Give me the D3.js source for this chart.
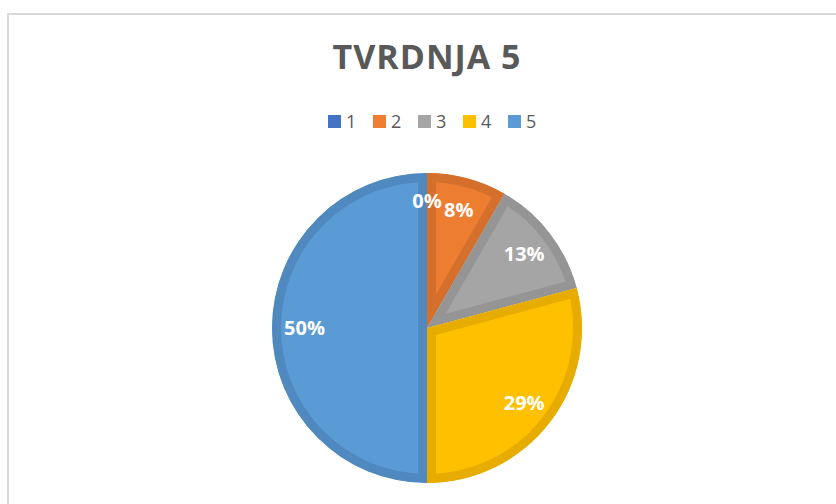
<!DOCTYPE html>
<html>
<head>
<meta charset="utf-8">
<script src="https://cdn.jsdelivr.net/npm/d3@7"></script>
<style>
  body { margin: 0; background: #fff; }
  svg { display: block; font-family: "Open Sans", sans-serif; }
</style>
</head>
<body>
<script>
// values (answers 1..5, count of respondents)
var categories = ["1", "2", "3", "4", "5"];
var counts = [0, 2, 3, 7, 12];
var fills = ["#4472C4", "#ED7D31", "#A5A5A5", "#FFC000", "#5B9BD5"];
var borders = ["#3D66B0", "#D5702C", "#959595", "#E6AD00", "#5089C0"];
var title = "TVRDNJA 5";

var width = 836, height = 504;
var cx = 427, cy = 328, radius = 155;

var svg = d3.select("body").append("svg")
    .attr("width", width)
    .attr("height", height);

// chart area frame (runs off the right and bottom edge)
svg.append("rect")
    .attr("x", 8).attr("y", 14)
    .attr("width", 900).attr("height", 600)
    .attr("fill", "none")
    .attr("stroke", "#d9d9d9")
    .attr("stroke-width", 2);

svg.append("text")
    .attr("x", cx).attr("y", 69)
    .attr("text-anchor", "middle")
    .attr("font-size", 34)
    .attr("font-weight", "bold")
    .attr("letter-spacing", 1)
    .attr("fill", "#595959")
    .text(title);

// legend
var legend = svg.append("g").attr("class", "legend")
    .selectAll("g")
    .data(categories).enter().append("g")
    .attr("transform", function(d, i) { return "translate(" + (328 + i * 45) + ",115)"; });
legend.append("rect")
    .attr("width", 13).attr("height", 13)
    .attr("fill", function(d, i) { return fills[i]; });
legend.append("text")
    .attr("x", 18).attr("y", 13)
    .attr("font-size", 18)
    .attr("fill", "#595959")
    .text(function(d) { return d; });

// pie
var total = d3.sum(counts);
var pie = d3.pie().sort(null).value(function(d) { return d; });
var arcs = pie(counts);
var arc = d3.arc().innerRadius(0).outerRadius(radius);
var labelArc = d3.arc().innerRadius(radius * 0.79).outerRadius(radius * 0.79);

var g = svg.append("g").attr("transform", "translate(" + cx + "," + cy + ")");
var defs = svg.append("defs");
defs.selectAll("clipPath")
    .data(arcs).enter().append("clipPath")
    .attr("id", function(d, i) { return "slice" + i; })
    .append("path")
    .attr("d", arc);

g.selectAll("path.slice")
    .data(arcs).enter().append("path")
    .attr("class", "slice")
    .attr("d", arc)
    .attr("clip-path", function(d, i) { return "url(#slice" + i + ")"; })
    .attr("fill", function(d, i) { return fills[i]; })
    .attr("stroke", function(d, i) { return borders[i]; })
    .attr("stroke-width", function(d) { return d.value > 0 ? 18 : 0; })
    .attr("stroke-linejoin", "miter");

g.selectAll("text.pct")
    .data(arcs).enter().append("text")
    .attr("class", "pct")
    .attr("transform", function(d) {
        var c = labelArc.centroid(d);
        if (d.value === 0) c = [c[0], c[1] - 5];
        return "translate(" + c[0] + "," + c[1] + ")";
    })
    .attr("text-anchor", "middle")
    .attr("dy", "0.36em")
    .attr("font-size", 20)
    .attr("font-weight", "bold")
    .attr("fill", "#fff")
    .text(function(d) { return Math.round(d.value / total * 100) + "%"; });
</script>
</body>
</html>
